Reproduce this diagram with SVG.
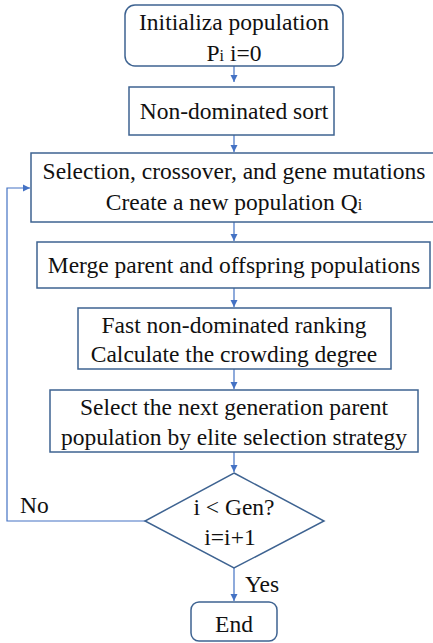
<svg xmlns="http://www.w3.org/2000/svg" width="433" height="643" viewBox="0 0 433 643">
<defs>
<marker id="ah" markerWidth="8" markerHeight="8" refX="7" refY="4" orient="auto" markerUnits="userSpaceOnUse">
<path d="M0,0.5 L7,4 L0,7.5 Z" fill="#4472C4"/>
</marker>
<style>
.box{fill:#fff;stroke:#3E6391;stroke-width:1.5}
.t{font-family:"Liberation Serif","Times New Roman",serif;font-size:23.5px;fill:#111;text-anchor:middle}
.l{font-family:"Liberation Serif","Times New Roman",serif;font-size:23.5px;fill:#111}
.c{fill:none;stroke:#4472C4;stroke-width:1.2;marker-end:url(#ah)}
.sub{font-size:16px}
</style>
</defs>
<rect width="433" height="643" fill="#fff"/>
<g id="connectors">
<path class="c" d="M234,66 V82"/>
<path class="c" d="M234,135 V152"/>
<path class="c" d="M234,222 V241"/>
<path class="c" d="M234,288 V307"/>
<path class="c" d="M234,369 V389"/>
<path class="c" d="M234,452 V472"/>
<path class="c" d="M234,568 V601"/>
<path class="c" d="M145,521 H7 V188 H30"/>
</g>
<g id="init">
<rect class="box" x="125" y="5" width="218" height="61" rx="10"/>
<text class="t" x="234" y="30">Initializa population</text>
<text class="t" x="234" y="61">P<tspan class="sub">i</tspan> i=0</text>
</g>
<g id="sort">
<rect class="box" x="129" y="87" width="205" height="48"/>
<text class="t" x="234" y="119">Non-dominated sort</text>
</g>
<g id="selection">
<rect class="box" x="31" y="153" width="403" height="69"/>
<text class="t" x="234" y="179">Selection, crossover, and gene mutations</text>
<text class="t" x="234" y="210">Create a new population Q<tspan class="sub">i</tspan></text>
</g>
<g id="merge">
<rect class="box" x="37" y="242" width="393" height="46"/>
<text class="t" x="234" y="273">Merge parent and offspring populations</text>
</g>
<g id="ranking">
<rect class="box" x="78" y="308" width="313" height="61"/>
<text class="t" x="234" y="333">Fast non-dominated ranking</text>
<text class="t" x="234" y="362">Calculate the crowding degree</text>
</g>
<g id="elite">
<rect class="box" x="50" y="390" width="368" height="62"/>
<text class="t" x="234" y="415">Select the next generation parent</text>
<text class="t" x="234" y="445">population by elite selection strategy</text>
</g>
<g id="decision">
<path class="box" d="M234,473 L324,521 L234,568 L145,521 Z"/>
<text class="t" x="234" y="515">i &lt; Gen?</text>
<text class="t" x="230" y="545">i=i+1</text>
</g>
<text class="l" x="20" y="513">No</text>
<text class="l" x="245" y="592">Yes</text>
<g id="end">
<rect class="box" x="191" y="602" width="86" height="39" rx="8"/>
<text class="t" x="234" y="632">End</text>
</g>
</svg>
